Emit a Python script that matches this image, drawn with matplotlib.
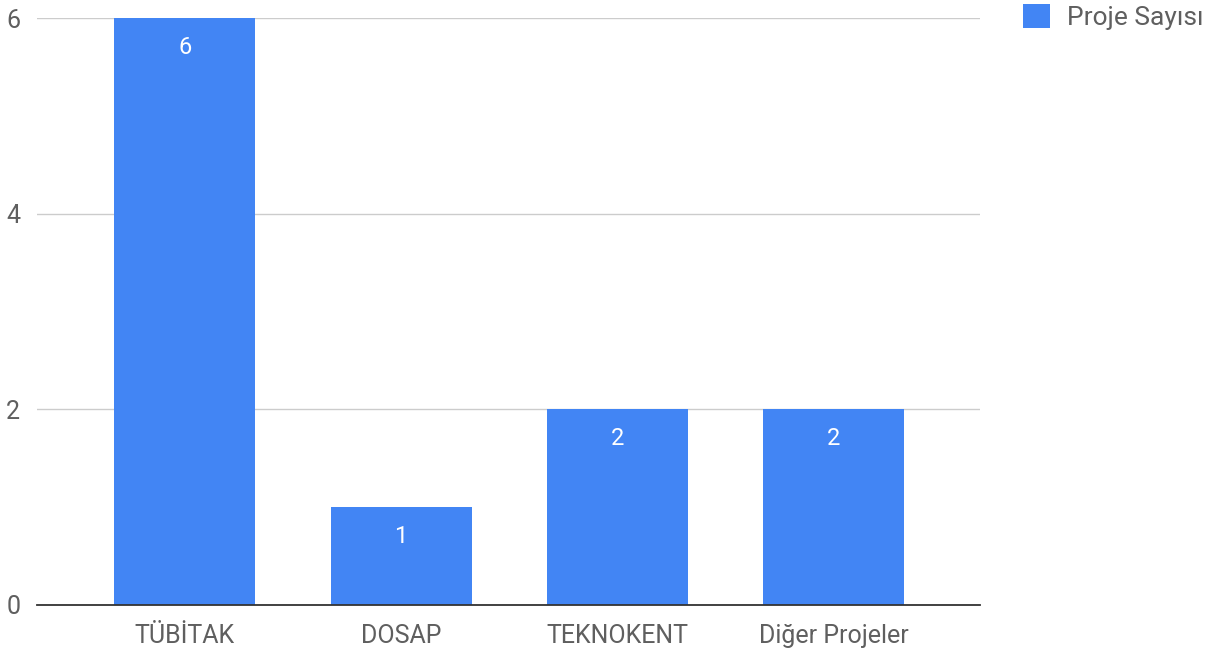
import matplotlib
matplotlib.use("Agg")
import matplotlib.pyplot as plt
import numpy as np

categories = ["TÜBİTAK", "DOSAP", "TEKNOKENT", "Diğer Projeler"]
values = [6, 1, 2, 2]
series_name = "Proje Sayısı"
yticks = [0, 2, 4, 6]

plt.rcParams['font.family'] = ['Roboto', 'DejaVu Sans']

fig = plt.figure(figsize=(12.21, 6.52), dpi=100)
# axes box in pixels: x 37..980, y 18..605
ax = fig.add_axes([37 / 1221, (652 - 605) / 652, (980 - 37) / 1221, (605 - 18) / 652])

x = np.arange(len(categories))
bars = ax.bar(x, values, width=0.652, color="#4285F4", zorder=3, label=series_name)

for b, v in zip(bars, values):
    ax.annotate(str(v), (b.get_x() + b.get_width() / 2, v), xytext=(0, -29),
                textcoords="offset pixels", ha="center", va="center",
                color="white", fontsize=17, zorder=4)

ax.set_xlim(-0.683, 3.675)
ax.set_ylim(0, 6)
ax.set_yticks(yticks)
ax.set_yticklabels([str(t) for t in yticks])
ax.set_xticks(x)
ax.set_xticklabels(categories)
ax.tick_params(axis="both", length=0, labelsize=18, colors="#5f5f5f")
ax.tick_params(axis="y", pad=12)
ax.tick_params(axis="x", pad=14)

ax.grid(axis="y", color="#cccccc", linewidth=1, zorder=0)
for s in ["top", "right", "left"]:
    ax.spines[s].set_visible(False)
ax.spines["bottom"].set_color("#333333")
ax.spines["bottom"].set_linewidth(1.3)
ax.spines["bottom"].set_zorder(5)

leg = fig.legend(handles=[bars], labels=[series_name], loc="upper left",
                 bbox_to_anchor=(1023 / 1221, 1 - 4 / 652), frameon=False,
                 fontsize=19, handlelength=1.03, handleheight=1.03,
                 handletextpad=0.62, borderaxespad=0, borderpad=0)
for t in leg.get_texts():
    t.set_color("#5f5f5f")

fig.savefig("out.png", dpi=100)
